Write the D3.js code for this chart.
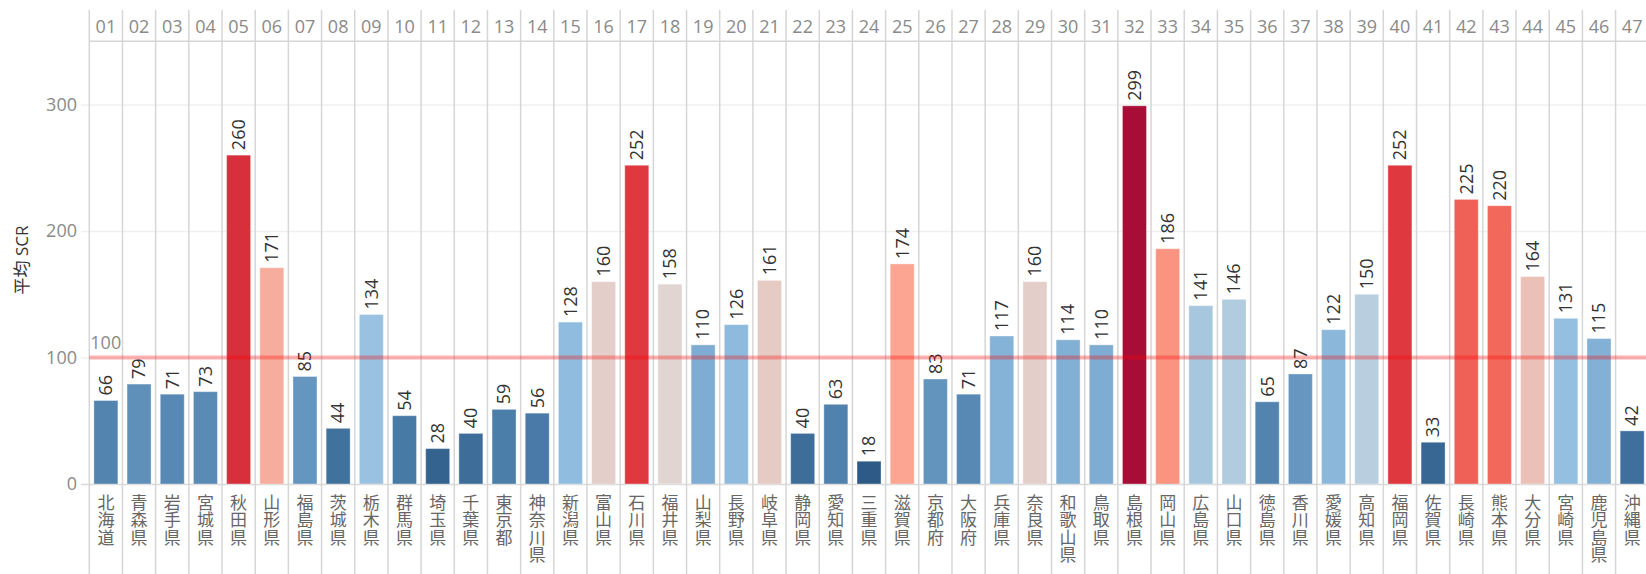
<!DOCTYPE html>
<html>
<head>
<meta charset="utf-8">
<script src="https://cdn.jsdelivr.net/npm/d3@7"></script>
<style>
  body { margin: 0; background: #fff; }
  text { font-family: "Open Sans", "Noto Sans CJK JP", sans-serif; }
</style>
</head>
<body>
<script>
// prefecture codes (header), names (bottom) and average SCR
var codes = ["01","02","03","04","05","06","07","08","09","10","11","12","13","14","15","16",
  "17","18","19","20","21","22","23","24","25","26","27","28","29","30","31","32",
  "33","34","35","36","37","38","39","40","41","42","43","44","45","46","47"];
var names = ["北海道","青森県","岩手県","宮城県","秋田県","山形県","福島県","茨城県","栃木県","群馬県",
  "埼玉県","千葉県","東京都","神奈川県","新潟県","富山県","石川県","福井県","山梨県","長野県",
  "岐阜県","静岡県","愛知県","三重県","滋賀県","京都府","大阪府","兵庫県","奈良県","和歌山県",
  "鳥取県","島根県","岡山県","広島県","山口県","徳島県","香川県","愛媛県","高知県","福岡県",
  "佐賀県","長崎県","熊本県","大分県","宮崎県","鹿児島県","沖縄県"];
var scr = [66,79,71,73,260,171,85,44,134,54,28,40,59,56,128,160,252,158,110,126,161,40,63,18,
  174,83,71,117,160,114,110,299,186,141,146,65,87,122,150,252,33,225,220,164,131,115,42];
var yTicks = [0, 100, 200, 300];
var refValue = 100;

var width = 1646, height = 574;
var left = 89.3, colW = 33.18;
var plotTop = 41.3, base = 484;

var svg = d3.select("body").append("svg")
  .attr("width", width)
  .attr("height", height);

var x = d3.scaleBand().domain(codes).range([left, left + colW * codes.length]).padding(0);
var y = d3.scaleLinear().domain([0, 350]).range([base, plotTop]);

// diverging colours, blue below / red above
var color = d3.scaleLinear()
  .domain([18, 60, 90, 130, 150, 158, 165, 175, 220, 255, 299])
  .range(["#2d5a87","#4d7fab","#6a9ac3","#92bee0","#b9cfdf","#e1d5d2","#edbdb3","#fca28e","#f2685a","#dd333d","#a70d37"]);

// y gridlines + labels
var yAxis = svg.append("g")
  .attr("transform", "translate(81,0)")
  .call(d3.axisLeft(y).tickValues(yTicks).tickSize(-(width - 81)).tickPadding(4));
yAxis.select(".domain").remove();
yAxis.selectAll(".tick line").attr("stroke", function (d) { return d === 0 ? "#d9d9d9" : "#f0f0f0"; })
  .attr("stroke-width", 1.5);
yAxis.selectAll(".tick text").attr("fill", "#8a8a8a").style("font-size", "18px");

// column separators
var bounds = codes.map(function (c) { return x(c); });
bounds.push(x(codes[codes.length - 1]) + x.bandwidth());
svg.selectAll("line.col")
  .data(bounds)
  .enter()
  .append("line")
  .attr("class", "col")
  .attr("x1", function (d) { return d; })
  .attr("x2", function (d) { return d; })
  .attr("y1", 10)
  .attr("y2", height)
  .attr("stroke", "#d6d6d6")
  .attr("stroke-width", 1.5);

svg.append("line")
  .attr("x1", left).attr("x2", width)
  .attr("y1", plotTop).attr("y2", plotTop)
  .attr("stroke", "#d6d6d6")
  .attr("stroke-width", 1.5);

// header codes
var header = svg.append("g")
  .attr("transform", "translate(0," + plotTop + ")")
  .call(d3.axisTop(x).tickSize(0).tickPadding(8));
header.select(".domain").remove();
header.selectAll(".tick text").attr("fill", "#8a8a8a").style("font-size", "18px");

// bars
var barW = 24;
svg.selectAll("rect.bar")
  .data(scr)
  .enter()
  .append("rect")
  .attr("class", "bar")
  .attr("x", function (d, i) { return x(codes[i]) + (x.bandwidth() - barW) / 2; })
  .attr("y", function (d) { return y(d); })
  .attr("width", barW)
  .attr("height", function (d) { return base - y(d); })
  .attr("fill", function (d) { return color(d); })
  .attr("stroke", "rgba(255,255,255,0.35)")
  .attr("stroke-width", 1);

// value labels
svg.selectAll("text.val")
  .data(scr)
  .enter()
  .append("text")
  .attr("class", "val")
  .attr("transform", function (d, i) {
    return "translate(" + (x(codes[i]) + x.bandwidth() / 2) + "," + (y(d) - 5) + ") rotate(-90)";
  })
  .attr("dy", "0.35em")
  .attr("fill", "#333")
  .style("font-size", "18px")
  .text(function (d) { return d; });

// reference line at 100
svg.append("line")
  .attr("x1", left).attr("x2", width)
  .attr("y1", y(refValue)).attr("y2", y(refValue))
  .attr("stroke", "#ff0000")
  .attr("stroke-opacity", 0.3)
  .attr("stroke-width", 4);
svg.append("text")
  .attr("x", left + 1)
  .attr("y", y(refValue) - 9)
  .attr("fill", "#8a8a8a")
  .style("font-size", "18px")
  .text(refValue);

// prefecture names, stacked vertically
var nameG = svg.selectAll("text.name")
  .data(names)
  .enter()
  .append("text")
  .attr("class", "name")
  .attr("fill", "#666")
  .attr("text-anchor", "middle")
  .style("font-size", "17px");
nameG.each(function (n, i) {
  var cx = x(codes[i]) + x.bandwidth() / 2;
  d3.select(this).selectAll("tspan")
    .data(n.split(""))
    .enter()
    .append("tspan")
    .attr("x", cx)
    .attr("y", function (c, j) { return 509 + j * 17.4; })
    .text(function (c) { return c; });
});

// y title
svg.append("text")
  .attr("transform", "translate(22,260) rotate(-90)")
  .attr("text-anchor", "middle")
  .attr("dy", "0.35em")
  .attr("fill", "#333")
  .style("font-size", "17px")
  .text("平均 SCR");
</script>
</body>
</html>
